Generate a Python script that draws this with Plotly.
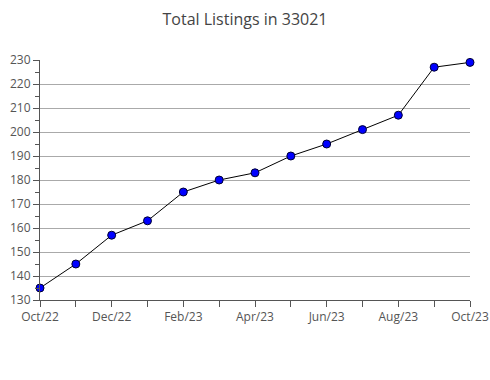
import plotly.graph_objects as go

months = ["Oct/22", "Nov/22", "Dec/22", "Jan/23", "Feb/23", "Mar/23", "Apr/23",
          "May/23", "Jun/23", "Jul/23", "Aug/23", "Sep/23", "Oct/23"]
listings = [135, 145, 157, 163, 175, 180, 183, 190, 195, 201, 207, 227, 229]
tick_labels = [m if i % 2 == 0 else "" for i, m in enumerate(months)]
y_ticks = list(range(130, 231, 10))

x_idx = list(range(len(months)))

fig = go.Figure()
fig.add_trace(go.Scatter(
    x=x_idx, y=listings, mode="lines+markers",
    line=dict(color="black", width=1),
    marker=dict(color="#0000ff", size=8, line=dict(color="#000033", width=1)),
    cliponaxis=False,
))

fig.update_layout(
    width=490, height=380,
    margin=dict(l=40, r=20, t=60, b=80, autoexpand=False),
    paper_bgcolor="white", plot_bgcolor="white",
    title=dict(text="Total Listings in 33021", x=0.5, xanchor="center", y=0.965,
               font=dict(family="Open Sans", size=16, color="#444444")),
    font=dict(family="Open Sans", size=12, color="#555555"),
    showlegend=False,
)
fig.update_xaxes(
    range=[0, len(months) - 1], automargin=False,
    tickmode="array", tickvals=x_idx, ticktext=tick_labels,
    ticks="outside", ticklen=6, tickcolor="#555555",
    showline=True, linecolor="#555555", linewidth=1,
    showgrid=False, zeroline=False,
)
fig.update_yaxes(
    range=[130, 230], automargin=False,
    tickmode="array", tickvals=y_ticks,
    ticks="outside", ticklen=6, tickcolor="#555555",
    showline=True, linecolor="#555555", linewidth=1,
    showgrid=True, gridcolor="#aaaaaa", gridwidth=1,
    zeroline=False,
    minor=dict(dtick=5, tick0=130, ticks="outside", ticklen=4, tickcolor="#555555", showgrid=False),
)

fig.write_html("out.html")
